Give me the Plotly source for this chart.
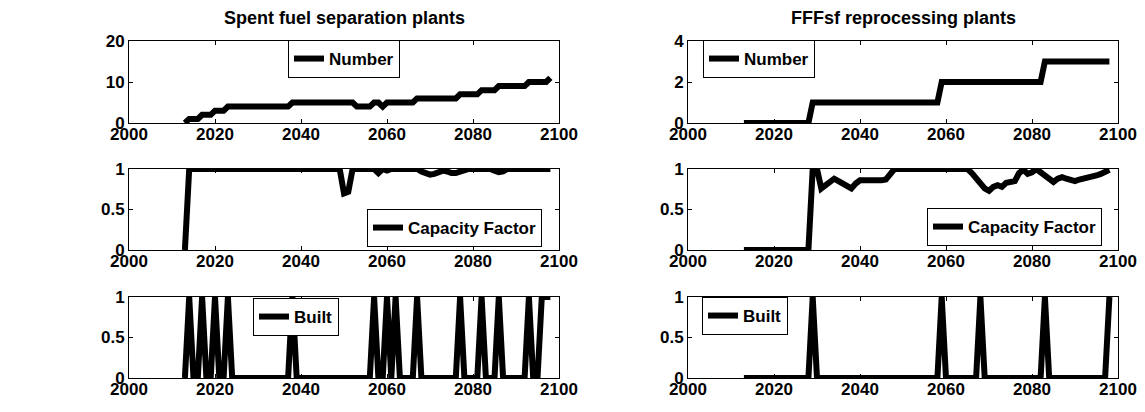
import plotly.graph_objects as go

# years of the simulation output
years = list(range(2013, 2099))

# Spent fuel separation plants (left column)
sep_number = [0, 1, 1, 1, 2, 2, 2,
              3, 3, 3, 4, 4, 4, 4, 4, 4, 4,
              4, 4, 4, 4, 4, 4, 4, 4, 5, 5,
              5, 5, 5, 5, 5, 5, 5, 5, 5, 5,
              5, 5, 5, 4, 4, 4, 4, 5, 5, 4,
              5, 5, 5, 5, 5, 5, 5, 6, 6, 6,
              6, 6, 6, 6, 6, 6, 6, 7, 7, 7,
              7, 7, 8, 8, 8, 8, 9, 9, 9, 9,
              9, 9, 9, 10, 10, 10, 10, 10, 11]
sep_capacity = [0, 1, 1, 1, 1, 1, 1,
                1, 1, 1, 1, 1, 1, 1, 1, 1, 1,
                1, 1, 1, 1, 1, 1, 1, 1, 1, 1,
                1, 1, 1, 1, 1, 1, 1, 1, 1, 1,
                0.7, 0.72, 1, 1, 1, 1, 1, 1, 0.95, 1,
                0.98, 1, 1, 1, 1, 1, 1, 1, 0.97, 0.95,
                0.93, 0.94, 0.97, 0.98, 0.97, 0.95, 0.95, 0.97, 0.98, 1,
                1, 1, 1, 1, 1, 0.98, 0.96, 0.97, 1, 1,
                1, 1, 1, 1, 1, 1, 1, 1, 1]
sep_built = [0, 1, 0, 0, 1, 0, 0,
             1, 0, 0, 1, 0, 0, 0, 0, 0, 0,
             0, 0, 0, 0, 0, 0, 0, 0, 1, 0,
             0, 0, 0, 0, 0, 0, 0, 0, 0, 0,
             0, 0, 0, 0, 0, 0, 0, 1, 0, 0,
             1, 0, 1, 0, 0, 0, 0, 1, 0, 0,
             0, 0, 0, 0, 0, 0, 0, 1, 0, 0,
             0, 0, 1, 0, 0, 0, 1, 0, 0, 0,
             0, 0, 0, 1, 0, 0, 1, 1, 1]

# FFFsf reprocessing plants (right column)
fff_number = [0, 0, 0, 0, 0, 0, 0,
              0, 0, 0, 0, 0, 0, 0, 0, 0, 1,
              1, 1, 1, 1, 1, 1, 1, 1, 1, 1,
              1, 1, 1, 1, 1, 1, 1, 1, 1, 1,
              1, 1, 1, 1, 1, 1, 1, 1, 1, 2,
              2, 2, 2, 2, 2, 2, 2, 2, 2, 2,
              2, 2, 2, 2, 2, 2, 2, 2, 2, 2,
              2, 2, 2, 3, 3, 3, 3, 3, 3, 3,
              3, 3, 3, 3, 3, 3, 3, 3, 3]
fff_capacity = [0, 0, 0, 0, 0, 0, 0,
                0, 0, 0, 0, 0, 0, 0, 0, 0, 1,
                1, 0.76, 0.8, 0.85, 0.88, 0.85, 0.82, 0.78, 0.76, 0.82,
                0.86, 0.86, 0.86, 0.85, 0.86, 0.86, 0.87, 0.95, 1, 1,
                1, 1, 1, 1, 1, 1, 1, 1, 1, 1,
                1, 1, 1, 1, 1, 1, 0.95, 0.88, 0.82, 0.76,
                0.73, 0.78, 0.8, 0.78, 0.83, 0.84, 0.85, 0.95, 0.99, 0.94,
                0.96, 1, 0.96, 0.9, 0.86, 0.84, 0.88, 0.9, 0.88, 0.86,
                0.85, 0.87, 0.88, 0.9, 0.91, 0.92, 0.94, 0.97, 0.99]
fff_built = [0, 0, 0, 0, 0, 0, 0,
             0, 0, 0, 0, 0, 0, 0, 0, 0, 1,
             0, 0, 0, 0, 0, 0, 0, 0, 0, 0,
             0, 0, 0, 0, 0, 0, 0, 0, 0, 0,
             0, 0, 0, 0, 0, 0, 0, 0, 0, 1,
             0, 0, 0, 0, 0, 0, 0, 0, 1, 0,
             0, 0, 0, 0, 0, 0, 0, 0, 0, 0,
             0, 0, 0, 1, 0, 0, 0, 0, 0, 0,
             0, 0, 0, 0, 0, 0, 0, 0, 1]

titles = ["Spent fuel separation plants", "FFFsf reprocessing plants"]

# the page puts the figure 8px in from the top-left corner (body margin),
# so the figure is a bit smaller than the window and positions are shifted
OFF = 8
W, H = 1145 - 2 * OFF, 412 - 2 * OFF
FONT = "Liberation Sans, Arial, sans-serif"


def px(x):
    return (x - OFF) / W


def py(y):
    return 1 - (y - OFF) / H


# pixel boxes of the axes (in window pixels)
col_x = [(129, 559), (688, 1118)]
row_y = [(41, 123), (169, 250), (297, 378)]

fig = go.Figure()

panels = [
    # (row, col, values, name, yrange, dtick, legend box left/top px)
    (0, 0, sep_number, "Number", [0, 20], 10, (288, 40)),
    (0, 1, fff_number, "Number", [0, 4], 2, (703, 40)),
    (1, 0, sep_capacity, "Capacity Factor", [0, 1], 0.5, (367, 209)),
    (1, 1, fff_capacity, "Capacity Factor", [0, 1], 0.5, (927, 208)),
    (2, 0, sep_built, "Built", [0, 1], 0.5, (253, 298)),
    (2, 1, fff_built, "Built", [0, 1], 0.5, (702, 297)),
]

layout = {}
for i, (r, c, vals, name, yr, dt, lg) in enumerate(panels):
    n = i + 1
    sfx = "" if n == 1 else str(n)
    leg = "legend" if n == 1 else f"legend{n}"
    fig.add_trace(go.Scatter(
        x=years, y=vals, mode="lines", name=name,
        line=dict(color="black", width=6),
        xaxis="x" + sfx, yaxis="y" + sfx, legend=leg,
        showlegend=True
    ))
    x0, x1 = col_x[c]
    y0, y1 = row_y[r]
    axis_common = dict(
        showline=True, linecolor="black", linewidth=1, mirror="ticks",
        ticks="inside", ticklen=4, tickcolor="black",
        showgrid=False, zeroline=False, automargin=False,
        tickfont=dict(family=FONT, size=17, color="black", weight="bold"),
    )
    layout["xaxis" + sfx] = dict(
        axis_common, domain=[px(x0), px(x1)], range=[2000, 2100],
        tickmode="array", tickvals=[2000, 2020, 2040, 2060, 2080, 2100],
        anchor="y" + sfx, ticklabelstandoff=-4,
    )
    layout["yaxis" + sfx] = dict(
        axis_common, domain=[py(y1), py(y0)], range=yr,
        dtick=dt, tick0=0, anchor="x" + sfx,
    )
    layout[leg] = dict(
        x=px(lg[0]), y=py(lg[1]), xanchor="left", yanchor="top",
        bgcolor="white", bordercolor="black", borderwidth=1,
        font=dict(family=FONT, size=17, color="black", weight="bold"),
        itemwidth=30,
    )

fig.update_layout(**layout)

for c, t in enumerate(titles):
    x0, x1 = col_x[c]
    fig.add_annotation(
        x=px((x0 + x1) / 2), y=py(18), xref="paper", yref="paper",
        text=t, showarrow=False, xanchor="center", yanchor="middle",
        font=dict(family=FONT, size=18, color="black", weight="bold"),
    )

fig.update_layout(
    width=W, height=H,
    margin=dict(l=0, r=0, t=0, b=0, autoexpand=False),
    plot_bgcolor="white", paper_bgcolor="white",
)

fig.write_html("out.html")
